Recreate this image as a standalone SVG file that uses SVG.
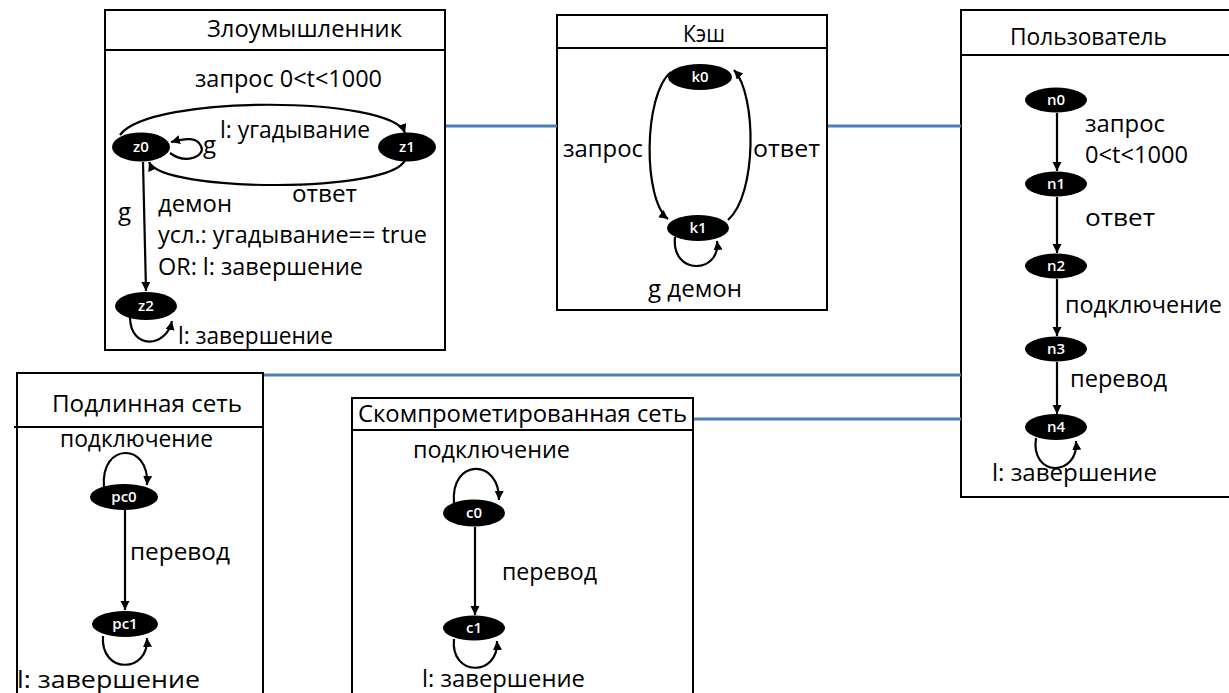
<svg xmlns="http://www.w3.org/2000/svg" width="1229" height="693" viewBox="0 0 1229 693">
<style>
.frame{fill:#fff;stroke:#000;stroke-width:2}
.hdr{fill:none;stroke:#000;stroke-width:2}
.t{font-family:"Open Sans","DejaVu Sans",sans-serif;font-size:24px;fill:#000}
.st ellipse{fill:#000}
.st text{font-family:"Open Sans","DejaVu Sans",sans-serif;font-size:15px;font-weight:600;fill:#fff;text-anchor:middle}
.e{fill:none;stroke:#000;stroke-width:2.2;marker-end:url(#ah)}
.link{stroke:#4a7ebb;stroke-width:3;fill:none}
</style>
<defs>
<marker id="ah" markerUnits="userSpaceOnUse" markerWidth="10" markerHeight="10" refX="9" refY="4.5" orient="auto">
<path d="M0,0 L9,4.5 L0,9 z" fill="#000"/>
</marker>
</defs>
<rect width="1229" height="693" fill="#fff"/>

<!-- frames -->
<g id="box-attacker">
<rect class="frame" x="105" y="10" width="340" height="340"/>
<line class="hdr" x1="105" y1="50" x2="445" y2="50"/>
<text class="t" x="207" y="37" textLength="195" lengthAdjust="spacingAndGlyphs">Злоумышленник</text>
</g>
<g id="box-cache">
<rect class="frame" x="557" y="15" width="270" height="295"/>
<line class="hdr" x1="557" y1="48" x2="827" y2="48"/>
<text class="t" x="683" y="42" textLength="42" lengthAdjust="spacingAndGlyphs">Кэш</text>
</g>
<g id="box-user">
<rect class="frame" x="961" y="10" width="280" height="487"/>
<line class="hdr" x1="961" y1="55" x2="1241" y2="55"/>
<text class="t" x="1010" y="45" textLength="157" lengthAdjust="spacingAndGlyphs">Пользователь</text>
</g>
<g id="box-genuine">
<rect class="frame" x="17" y="373" width="246" height="340"/>
<line class="hdr" x1="14" y1="427" x2="263" y2="427"/>
<text class="t" x="52" y="412" textLength="190" lengthAdjust="spacingAndGlyphs">Подлинная сеть</text>
</g>
<g id="box-compromised">
<rect class="frame" x="352" y="398" width="341" height="320"/>
<line class="hdr" x1="352" y1="430" x2="693" y2="430"/>
<text class="t" x="358" y="422" textLength="329" lengthAdjust="spacingAndGlyphs">Скомпрометированная сеть</text>
</g>

<!-- blue connectors between frames -->
<g id="connectors">
<line class="link" x1="446" y1="126" x2="557" y2="126"/>
<line class="link" x1="828" y1="126" x2="961" y2="126"/>
<line class="link" x1="264" y1="375" x2="961" y2="375"/>
<line class="link" x1="694" y1="419" x2="961" y2="419"/>
</g>

<!-- transitions -->
<g id="edges">
<!-- attacker -->
<path class="e" d="M120,135 C150,94 392,96 405,133"/>
<path class="e" d="M170,153 C186,165 206,156 201,146 C197,137 186,138 171,142"/>
<path class="e" d="M405,160 C392,193 162,193 149,162"/>
<path class="e" d="M143,162 L146,291"/>
<path class="e" d="M130,318 C131,350 166,348 172,321"/>
<!-- cache -->
<path class="e" d="M671,72 C643,95 643,200 668,219"/>
<path class="e" d="M728,220 C757,195 757,95 734,70"/>
<path class="e" d="M675,237 C671,276 721,274 717,241"/>
<!-- user -->
<path class="e" d="M1057,113 L1057,171"/>
<path class="e" d="M1057,197 L1057,253"/>
<path class="e" d="M1057,279 L1057,336"/>
<path class="e" d="M1057,362 L1057,414"/>
<path class="e" d="M1036,438 C1030,478 1079,477 1076,441"/>
<!-- genuine -->
<path class="e" d="M104,487 C100,442 150,442 147,485"/>
<path class="e" d="M125,510 L125,610"/>
<path class="e" d="M103,636 C100,674 149,674 147,638"/>
<!-- compromised -->
<path class="e" d="M454,503 C450,458 500,458 499,500"/>
<path class="e" d="M475,527 L475,615"/>
<path class="e" d="M454,639 C450,677 499,677 497,641"/>
</g>

<!-- transition labels -->
<g id="labels">
<text class="t" x="195" y="87" textLength="187" lengthAdjust="spacingAndGlyphs">запрос 0&lt;t&lt;1000</text>
<text class="t" x="220" y="138" textLength="150" lengthAdjust="spacingAndGlyphs">l: угадывание</text>
<text class="t" x="203" y="153">g</text>
<text class="t" x="292" y="202" textLength="65" lengthAdjust="spacingAndGlyphs">ответ</text>
<text class="t" x="118" y="220">g</text>
<text class="t" x="158" y="212" textLength="74" lengthAdjust="spacingAndGlyphs">демон</text>
<text class="t" x="158" y="243" textLength="269" lengthAdjust="spacingAndGlyphs">усл.: угадывание== true</text>
<text class="t" x="158" y="275" textLength="205" lengthAdjust="spacingAndGlyphs">OR: l: завершение</text>
<text class="t" x="178" y="344" textLength="155" lengthAdjust="spacingAndGlyphs">l: завершение</text>

<text class="t" x="563" y="157" textLength="80" lengthAdjust="spacingAndGlyphs">запрос</text>
<text class="t" x="753" y="157" textLength="67" lengthAdjust="spacingAndGlyphs">ответ</text>
<text class="t" x="648" y="297" textLength="94" lengthAdjust="spacingAndGlyphs">g демон</text>

<text class="t" x="1085" y="132" textLength="80" lengthAdjust="spacingAndGlyphs">запрос</text>
<text class="t" x="1085" y="163" textLength="103" lengthAdjust="spacingAndGlyphs">0&lt;t&lt;1000</text>
<text class="t" x="1085" y="226" textLength="70" lengthAdjust="spacingAndGlyphs">ответ</text>
<text class="t" x="1065" y="313" textLength="157" lengthAdjust="spacingAndGlyphs">подключение</text>
<text class="t" x="1070" y="387" textLength="97" lengthAdjust="spacingAndGlyphs">перевод</text>
<text class="t" x="992" y="481" textLength="165" lengthAdjust="spacingAndGlyphs">l: завершение</text>

<text class="t" x="60" y="447" textLength="153" lengthAdjust="spacingAndGlyphs">подключение</text>
<text class="t" x="130" y="560" textLength="100" lengthAdjust="spacingAndGlyphs">перевод</text>
<text class="t" x="17" y="688" textLength="183" lengthAdjust="spacingAndGlyphs">l: завершение</text>

<text class="t" x="413" y="458" textLength="157" lengthAdjust="spacingAndGlyphs">подключение</text>
<text class="t" x="502" y="580" textLength="95" lengthAdjust="spacingAndGlyphs">перевод</text>
<text class="t" x="422" y="687" textLength="163" lengthAdjust="spacingAndGlyphs">l: завершение</text>
</g>

<!-- states -->
<g id="node-z0" class="st"><ellipse cx="141" cy="147" rx="29" ry="14.5"/><text x="141" y="152">z0</text></g>
<g id="node-z1" class="st"><ellipse cx="407" cy="147" rx="29" ry="14.5"/><text x="407" y="152">z1</text></g>
<g id="node-z2" class="st"><ellipse cx="146" cy="306" rx="31" ry="14"/><text x="146" y="311">z2</text></g>
<g id="node-k0" class="st"><ellipse cx="700" cy="77" rx="32" ry="13"/><text x="700" y="82">k0</text></g>
<g id="node-k1" class="st"><ellipse cx="698" cy="228" rx="31" ry="13"/><text x="698" y="233">k1</text></g>
<g id="node-n0" class="st"><ellipse cx="1056" cy="100" rx="31" ry="12.5"/><text x="1056" y="105">n0</text></g>
<g id="node-n1" class="st"><ellipse cx="1056" cy="184" rx="31" ry="12.5"/><text x="1056" y="189">n1</text></g>
<g id="node-n2" class="st"><ellipse cx="1056" cy="266" rx="31" ry="12.5"/><text x="1056" y="271">n2</text></g>
<g id="node-n3" class="st"><ellipse cx="1056" cy="349" rx="31" ry="12.5"/><text x="1056" y="354">n3</text></g>
<g id="node-n4" class="st"><ellipse cx="1056" cy="427" rx="31" ry="13"/><text x="1056" y="432">n4</text></g>
<g id="node-pc0" class="st"><ellipse cx="124" cy="497" rx="34" ry="13"/><text x="124" y="502">pc0</text></g>
<g id="node-pc1" class="st"><ellipse cx="125" cy="624" rx="33" ry="13"/><text x="125" y="629">pc1</text></g>
<g id="node-c0" class="st"><ellipse cx="474" cy="513" rx="31" ry="13.5"/><text x="474" y="518">c0</text></g>
<g id="node-c1" class="st"><ellipse cx="474" cy="628" rx="31" ry="12.5"/><text x="474" y="633">c1</text></g>
</svg>
